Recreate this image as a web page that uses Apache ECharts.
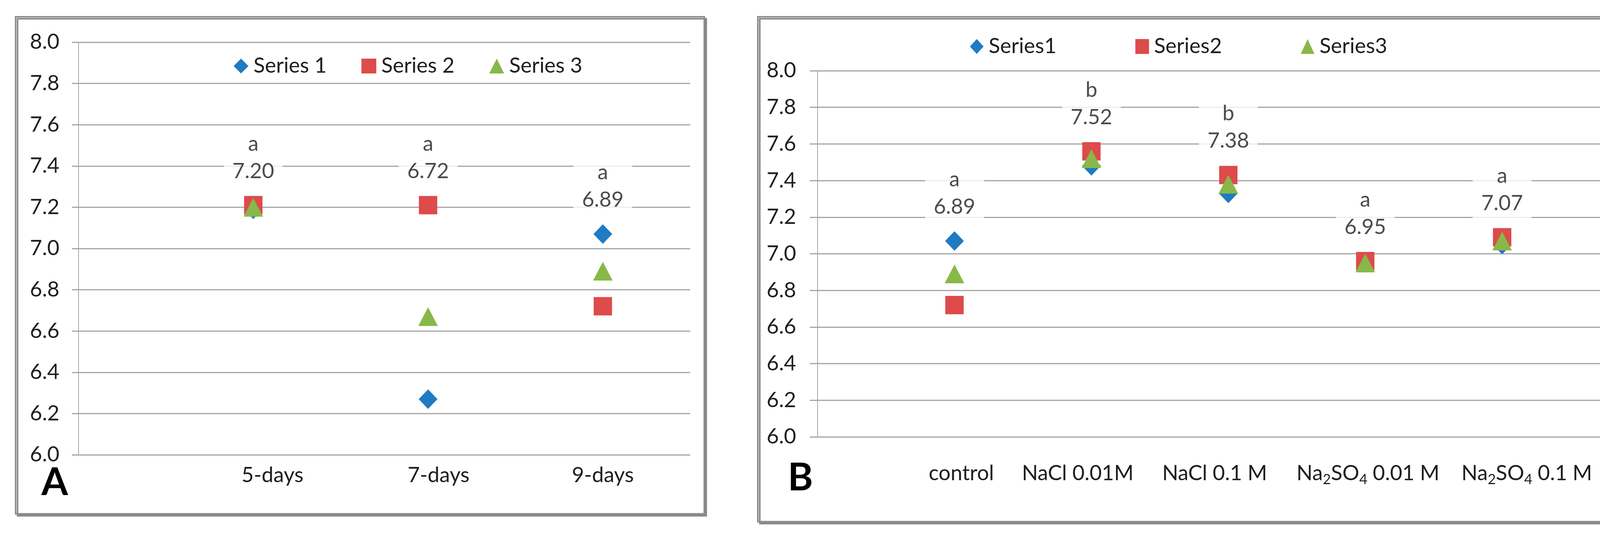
<!DOCTYPE html>
<html>
<head>
<meta charset="utf-8">
<script src="https://cdn.jsdelivr.net/npm/echarts@6/dist/echarts.min.js"></script>
<style>
html,body{margin:0;padding:0;background:#fff;}
#chart{width:4306px;height:1382px;}
</style>
</head>
<body>
<div id="chart"></div>
<script>
// ---------- Panel A data ----------
const catsA = ['5-days', '7-days', '9-days'];
const seriesNamesA = ['Series 1', 'Series 2', 'Series 3'];
const a1 = [7.19, 6.27, 7.07];
const a2 = [7.21, 7.21, 6.72];
const a3 = [7.20, 6.67, 6.89];
const meanA = [7.20, 6.72, 6.89];
const lettersA = ['a', 'a', 'a'];

// ---------- Panel B data ----------
const catsB = ['control', 'NaCl 0.01M', 'NaCl 0.1 M', 'Na₂SO₄ 0.01 M', 'Na₂SO₄ 0.1 M'];
const seriesNamesB = ['Series1', 'Series2', 'Series3'];
const b1 = [7.07, 7.48, 7.33, 6.95, 7.05];
const b2 = [6.72, 7.56, 7.43, 6.96, 7.09];
const b3 = [6.89, 7.52, 7.38, 6.95, 7.07];
const meanB = [6.89, 7.52, 7.38, 6.95, 7.07];
const lettersB = ['a', 'b', 'b', 'a', 'a'];

// ---------- y axis ticks ----------
const yMin = 6.0, yMax = 8.0, yStep = 0.2;

const FONT = 'Lato';
const TXT = '#1e1e1e';
const GRID = '#a6a6a6';
const COLORS = ['#1f7bc2', '#dd4b4b', '#88b848'];
const SYMBOLS = ['diamond', 'rect', 'triangle'];
const SIZES = [[48, 50], 47, [50, 48]];

// where the category text sits along each x axis (as in the original layout)
const labelAtA = [1.11, 2.06, 3.0];
const labelAtB = [1.05, 1.90, 2.90, 4.02, 5.18];

const chart = echarts.init(document.getElementById('chart'), null, {renderer: 'canvas'});

function pts(arr) { return arr.map((v, i) => [i + 1, v]); }

function markerSeries(names, arrs, gi) {
  return arrs.map((arr, k) => ({
    name: names[k],
    type: 'scatter',
    xAxisIndex: gi, yAxisIndex: gi,
    symbol: SYMBOLS[k],
    symbolSize: SIZES[k],
    itemStyle: {color: COLORS[k], opacity: 1},
    data: pts(arr),
    z: 3 + k
  }));
}

function labelSeries(arrs, means, letters, gi) {
  const data = means.map((m, i) => {
    const top = Math.max(...arrs.map(a => a[i]));
    return {value: [i + 1, top], txt: letters[i] + '\n' + m.toFixed(2)};
  });
  return {
    name: 'labels' + gi,
    type: 'scatter',
    xAxisIndex: gi, yAxisIndex: gi,
    symbol: 'rect',
    symbolSize: 48,
    itemStyle: {color: 'rgba(0,0,0,0)'},
    silent: true,
    z: 2,
    label: {
      show: true,
      position: 'top',
      distance: 20,
      formatter: p => p.data.txt,
      fontFamily: FONT,
      fontSize: 54,
      lineHeight: 70,
      color: TXT,
      align: 'center',
      backgroundColor: '#ffffff',
      padding: [8, 22, 8, 22]
    },
    data: data
  };
}

function yAxis(gi, margin, tick) {
  return {
    gridIndex: gi,
    type: 'value',
    min: yMin, max: yMax, interval: yStep,
    axisLine: {show: true, lineStyle: {color: GRID, width: 2}},
    axisTick: {show: true, length: tick, lineStyle: {color: GRID, width: 3}},
    splitLine: {show: true, lineStyle: {color: GRID, width: 3}},
    axisLabel: {
      fontFamily: FONT, fontSize: 54, color: TXT, margin: margin,
      formatter: v => v.toFixed(1)
    }
  };
}

function subRich(s) {
  return s.replace(/₂/g, '{s|2}').replace(/₄/g, '{s|4}');
}

function xAxis(gi, cats, at, max, margin) {
  return {
    gridIndex: gi,
    type: 'value',
    min: 0, max: max, interval: 1,
    axisLine: {show: false},
    axisTick: {show: false},
    splitLine: {show: false},
    axisLabel: {
      customValues: at,
      fontFamily: FONT, fontSize: 54, color: TXT, margin: margin,
      lineHeight: 66,
      formatter: v => {
        let best = 0, d = Infinity;
        at.forEach((p, i) => { if (Math.abs(p - v) < d) { d = Math.abs(p - v); best = i; } });
        return subRich(cats[best]);
      },
      rich: {
        s: {fontFamily: FONT, fontSize: 36, lineHeight: 36, padding: [30, 0, 0, 0], color: TXT}
      }
    }
  };
}

function frame(x, y, w, h) {
  return {
    type: 'rect',
    z: -10,
    shape: {x: x, y: y, width: w, height: h},
    style: {
      fill: '#ffffff', stroke: '#8e8e8e', lineWidth: 4,
      shadowColor: '#888888', shadowOffsetX: 5, shadowOffsetY: 5, shadowBlur: 0
    },
    silent: true
  };
}

function legend(names, left, top, iw, ih, gap) {
  return {
    data: names,
    left: left, top: top,
    orient: 'horizontal',
    itemWidth: iw, itemHeight: ih,
    itemGap: gap,
    textStyle: {fontFamily: FONT, fontSize: 54, color: TXT, padding: [0, 0, 0, 8], lineHeight: 60},
    selectedMode: false
  };
}

const option = {
  animation: false,
  backgroundColor: '#ffffff',
  textStyle: {fontFamily: FONT},
  graphic: [
    frame(40, 43, 1763, 1272),
    frame(1940, 43, 2327, 1292),
    {type: 'text', z: 10, style: {text: 'A', x: 140, y: 1235, fill: '#000', font: 'bold 98px Lato', textAlign: 'center', textVerticalAlign: 'middle'}},
    {type: 'text', z: 10, style: {text: 'B', x: 2049, y: 1223, fill: '#000', font: 'bold 98px Lato', textAlign: 'center', textVerticalAlign: 'middle'}}
  ],
  legend: [
    legend(seriesNamesA, 593, 134, 38, 38, 89),
    legend(seriesNamesB, 2478, 84, 35, 38, 202)
  ],
  grid: [
    {left: 201, right: 2539, top: 108, bottom: 218},
    {left: 2093, right: 110, top: 181, bottom: 264}
  ],
  xAxis: [xAxis(0, catsA, labelAtA, 3.5, 20), xAxis(1, catsB, labelAtB, 6, 61)],
  yAxis: [yAxis(0, 49, 17), yAxis(1, 55, 20)],
  series: [
    labelSeries([a1, a2, a3], meanA, lettersA, 0),
    ...markerSeries(seriesNamesA, [a1, a2, a3], 0),
    labelSeries([b1, b2, b3], meanB, lettersB, 1),
    ...markerSeries(seriesNamesB, [b1, b2, b3], 1)
  ]
};

chart.setOption(option);
</script>
</body>
</html>
